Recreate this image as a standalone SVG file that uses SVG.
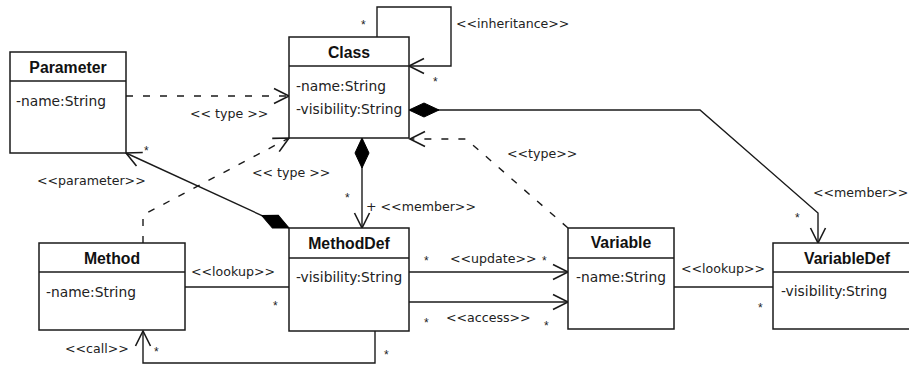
<svg xmlns="http://www.w3.org/2000/svg" width="909" height="365" viewBox="0 0 909 365">
  <style>
    .box { fill: #ffffff; stroke: #1a1a1a; stroke-width: 1.5; }
    .sep { stroke: #1a1a1a; stroke-width: 1.5; }
    .name { font-family: "Liberation Sans", Arial, sans-serif; font-weight: bold; font-size: 15.8px; fill: #111; text-anchor: middle; }
    .attr { font-family: "DejaVu Sans", sans-serif; font-size: 13.8px; fill: #222; }
    .lbl { font-family: "DejaVu Sans", sans-serif; font-size: 12.6px; fill: #222; }
    .mul { font-family: "Liberation Sans", Arial, sans-serif; font-size: 12px; fill: #222; }
    .edge { fill: none; stroke: #1a1a1a; stroke-width: 1.4; }
    .dash { stroke-dasharray: 7 10; }
  </style>
  <defs>
    <marker id="open" markerUnits="userSpaceOnUse" viewBox="-16 -9 18 18" refX="0" refY="0" markerWidth="18" markerHeight="18" orient="auto" overflow="visible">
      <path d="M-15,-7.5 L0,0 L-15,7.5" fill="none" stroke="#1a1a1a" stroke-width="1.6"/>
    </marker>
    <marker id="diamond" markerUnits="userSpaceOnUse" viewBox="-1 -8 33 16" refX="0" refY="0" markerWidth="33" markerHeight="16" orient="auto" overflow="visible">
      <path d="M0,0 L15,-7 L30,0 L15,7 Z" fill="#000" stroke="#000" stroke-width="1"/>
    </marker>
  </defs>

  <rect width="909" height="365" fill="#ffffff"/>

  <!-- connectors -->
  <g id="connectors">
    <!-- Class self inheritance -->
    <path class="edge" d="M377,37 V7 H451 V66 H409" marker-end="url(#open)"/>
    <!-- Class to VariableDef member -->
    <path class="edge" d="M409,110 H700 L818,213 V243" marker-start="url(#diamond)" marker-end="url(#open)"/>
    <!-- Class to MethodDef member -->
    <path class="edge" d="M362,138 V228" marker-start="url(#diamond)" marker-end="url(#open)"/>
    <!-- Parameter type -->
    <path class="edge dash" d="M126,96 H289" marker-end="url(#open)"/>
    <!-- Method type -->
    <path class="edge dash" d="M143,243 V215 L289,138" marker-end="url(#open)"/>
    <!-- Variable type -->
    <path class="edge dash" d="M568,228 L466,139 H410" marker-end="url(#open)"/>
    <!-- MethodDef parameter -->
    <path class="edge" d="M289,228 L126,153" marker-start="url(#diamond)" marker-end="url(#open)"/>
    <!-- Method lookup -->
    <path class="edge" d="M185,287 H289"/>
    <!-- update / access -->
    <path class="edge" d="M409,272 H568" marker-end="url(#open)"/>
    <path class="edge" d="M409,302 H568" marker-end="url(#open)"/>
    <!-- Variable lookup -->
    <path class="edge" d="M674,287 H773"/>
    <!-- call -->
    <path class="edge" d="M375,331 V363 H143 V331" marker-end="url(#open)"/>

    <!-- stereotypes -->
    <text class="lbl" x="456" y="28">&lt;&lt;inheritance&gt;&gt;</text>
    <text class="lbl" x="190" y="118">&lt;&lt; type &gt;&gt;</text>
    <text class="lbl" x="252" y="177">&lt;&lt; type &gt;&gt;</text>
    <text class="lbl" x="507" y="158">&lt;&lt;type&gt;&gt;</text>
    <text class="lbl" x="37" y="185">&lt;&lt;parameter&gt;&gt;</text>
    <text class="lbl" x="366" y="211">+ &lt;&lt;member&gt;&gt;</text>
    <text class="lbl" x="813" y="197">&lt;&lt;member&gt;&gt;</text>
    <text class="lbl" x="450" y="263">&lt;&lt;update&gt;&gt;</text>
    <text class="lbl" x="446" y="322">&lt;&lt;access&gt;&gt;</text>
    <text class="lbl" x="191" y="276">&lt;&lt;lookup&gt;&gt;</text>
    <text class="lbl" x="681" y="273">&lt;&lt;lookup&gt;&gt;</text>
    <text class="lbl" x="65" y="353">&lt;&lt;call&gt;&gt;</text>

    <!-- multiplicities -->
    <text class="mul" x="361" y="29">*</text>
    <text class="mul" x="433" y="86">*</text>
    <text class="mul" x="144" y="155">*</text>
    <text class="mul" x="345" y="202">*</text>
    <text class="mul" x="795" y="222">*</text>
    <text class="mul" x="424" y="265">*</text>
    <text class="mul" x="542" y="265">*</text>
    <text class="mul" x="424" y="327">*</text>
    <text class="mul" x="544" y="330">*</text>
    <text class="mul" x="273" y="310">*</text>
    <text class="mul" x="758" y="312">*</text>
    <text class="mul" x="154" y="356">*</text>
    <text class="mul" x="384" y="359">*</text>
  </g>

  <!-- nodes -->
  <g id="parameter">
    <rect class="box" x="10" y="52" width="116" height="101"/>
    <line class="sep" x1="10" y1="81" x2="126" y2="81"/>
    <text class="name" x="68" y="73">Parameter</text>
    <text class="attr" x="16" y="106">-name:String</text>
  </g>

  <g id="class">
    <rect class="box" x="289" y="37" width="120" height="101"/>
    <line class="sep" x1="289" y1="66" x2="409" y2="66"/>
    <text class="name" x="349" y="58">Class</text>
    <text class="attr" x="296" y="91">-name:String</text>
    <text class="attr" x="296" y="114">-visibility:String</text>
  </g>

  <g id="method">
    <rect class="box" x="39" y="243" width="146" height="87"/>
    <line class="sep" x1="39" y1="272" x2="185" y2="272"/>
    <text class="name" x="112" y="264">Method</text>
    <text class="attr" x="46" y="297">-name:String</text>
  </g>

  <g id="methoddef">
    <rect class="box" x="289" y="228" width="120" height="103"/>
    <line class="sep" x1="289" y1="258" x2="409" y2="258"/>
    <text class="name" x="349" y="249">MethodDef</text>
    <text class="attr" x="296" y="282">-visibility:String</text>
  </g>

  <g id="variable">
    <rect class="box" x="568" y="228" width="106" height="101"/>
    <line class="sep" x1="568" y1="258" x2="674" y2="258"/>
    <text class="name" x="621" y="248">Variable</text>
    <text class="attr" x="576" y="282">-name:String</text>
  </g>

  <g id="variabledef">
    <rect class="box" x="773" y="243" width="145" height="86"/>
    <line class="sep" x1="773" y1="272" x2="918" y2="272"/>
    <text class="name" x="847" y="264">VariableDef</text>
    <text class="attr" x="781" y="296">-visibility:String</text>
  </g>
</svg>
